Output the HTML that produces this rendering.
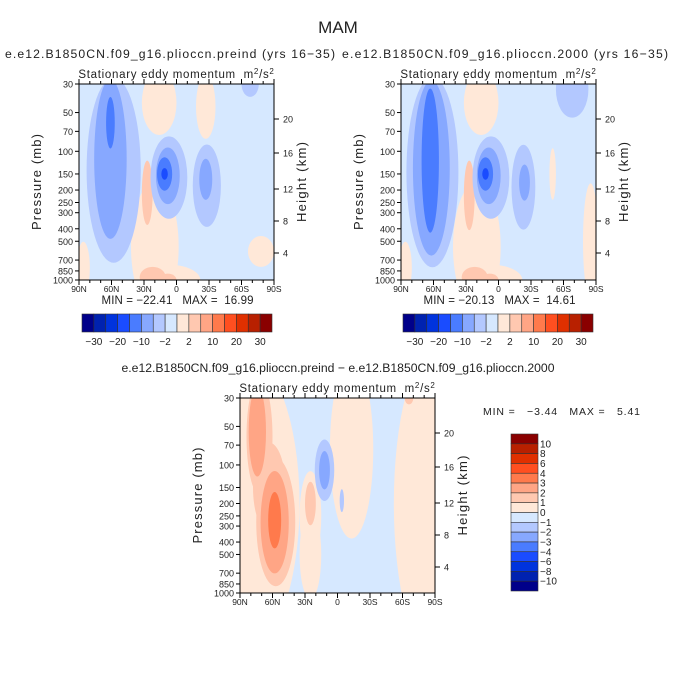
<!DOCTYPE html>
<html><head><meta charset="utf-8">
<style>
html,body{margin:0;padding:0;background:#fff;width:675px;height:677px;overflow:hidden;}
svg{display:block;font-family:"Liberation Sans",sans-serif;}
text{fill:#222;white-space:pre;}
</style></head>
<body>
<svg id="root" width="675" height="677" viewBox="0 0 675 677" xmlns="http://www.w3.org/2000/svg" overflow="hidden">
<text x="338" y="33" font-size="17" text-anchor="middle">MAM</text>
<g id="panels"></g>
</svg>
<script>
const colors16 = ["#00008a","#0022b0","#0033dd","#1a4cff","#4a7cff","#87a8ff","#b3c8ff","#d6e8ff","#ffe8d8","#ffc8b0","#ffa585","#ff7a4c","#ff4f20","#e03000","#b82000","#8a0000"];
const cbLabelsTop = ["-30","-20","-10","-2","2","10","20","30"];
const cbLabelsDiff = ["10","8","6","4","3","2","1","0","-1","-2","-3","-4","-6","-8","-10"];
const pTicks = [30,50,70,100,150,200,250,300,400,500,700,850,1000];
const hTicks = [[20,119],[16,153],[12,189],[8,221],[4,253]];
const latTicks = [90,60,30,0,-30,-60,-90];
const latLabels = ["90N","60N","30N","0","30S","60S","90S"];
// blobs: [lat, pressure, halfWidthDeg, halfHeightDecades, colorIndex]
const blobsPre = [
 [16,42,16,0.25,8],[-27,45,9,0.25,8],
 [20,550,22,0.5,8],[8,1000,30,0.12,8],[-78,600,12,0.12,8],[86,800,6,0.2,8],
 [27,210,5,0.25,9],[22,950,12,0.08,9],[8,1000,8,0.05,9],
 [58,140,25,0.72,6],[61,115,15,0.62,5],[61,60,4,0.2,4],
 [7,160,17,0.32,6],[8,155,11,0.22,5],[11,150,7,0.13,4],[11,150,3,0.045,3],
 [-28,185,13,0.32,6],[-27,165,6,0.16,5],[-68,30,8,0.1,6]
];
const blobsK = [
 [16,42,16,0.25,8],
 [20,550,22,0.5,8],[8,1000,30,0.12,8],[-85,500,7,0.45,8],[86,800,6,0.2,8],[-50,150,3,0.2,8],
 [27,220,5,0.27,9],[22,950,12,0.08,9],[8,1000,8,0.05,9],
 [61,145,24,0.74,6],[62,135,17,0.68,5],[63,118,8,0.56,4],
 [-68,33,15,0.22,6],
 [7,160,17,0.32,6],[9,155,11,0.22,5],[12,150,7,0.13,4],[12,150,3,0.045,3],
 [-23,190,11,0.33,6],[-24,175,5,0.14,5]
];
const blobsDiff = [
 [90,200,55,1.2,8],[-13,75,20,0.7,8],[-90,200,38,1.2,8],[25,500,10,0.35,8],[25,250,10,0.35,8],
 [72,60,12,0.45,9],[63,150,15,0.35,9],[57,280,18,0.5,9],
 [74,55,8,0.35,10],[58,280,13,0.4,10],[58,270,6,0.22,11],
 [25,200,5,0.17,9],[-66,30,4,0.05,9],
 [12,110,9,0.24,6],[12,110,5,0.15,5],[-4,190,2,0.09,6]
];
const NS="http://www.w3.org/2000/svg";
const root=document.getElementById('panels');
function mk(tag,attrs,parent){const e=document.createElementNS(NS,tag);for(const k in attrs)e.setAttribute(k,attrs[k]);(parent||root).appendChild(e);return e;}
function txt(x,y,s,size,anchor,parent,len){const a={x:x,y:y,'font-size':size,'text-anchor':anchor||'middle'};if(len){a.textLength=len;a.lengthAdjust='spacing';}const t=mk('text',a,parent);t.textContent=s;return t;}

function panel(id,x0,y0,w,h,bgIdx,blobs,title,sub){
  const g=mk('g',{});
  
  
  const X=lat=>x0+(90-lat)/180*w;
  const Y=p=>y0+h*Math.log10(p/30)/Math.log10(1000/30);
  const cp=mk('clipPath',{id:'c'+id},g);mk('rect',{x:x0,y:y0,width:w,height:h},cp);
  const pl=mk('g',{'clip-path':'url(#c'+id+')'},g);
  const bg=mk('rect',{x:x0,y:y0,width:w,height:h,fill:colors16[bgIdx]},pl);
  
  
  blobs.forEach(b=>{
    const ry=h*b[3]/Math.log10(1000/30);
    const e=mk('ellipse',{cx:X(b[0]),cy:Y(b[1]),rx:b[2]/180*w,ry:ry,fill:colors16[b[4]]},pl);
    
    
  });
  const fr=mk('rect',{x:x0,y:y0,width:w,height:h,fill:'none',stroke:'#000','stroke-width':1},g);
  
  
  pTicks.forEach(p=>{const y=Y(p);mk('line',{x1:x0-4,x2:x0,y1:y,y2:y,stroke:'#000'},g);
    const t=txt(x0-6,y+3.5,String(p),9,'end',g);
    
    });
  hTicks.forEach(ht=>{const y=y0+(ht[1]-84);mk('line',{x1:x0+w,x2:x0+w+5,y1:y,y2:y,stroke:'#000'},g);
    const t=txt(x0+w+9,y+3.5,String(ht[0]),9,'start',g);
    
    });
  for(let l=90;l>=-90;l-=10){const x=X(l);const big=l%30===0;
    mk('line',{x1:x,x2:x,y1:y0+h,y2:y0+h+(big?5:3),stroke:'#000'},g);
    mk('line',{x1:x,x2:x,y1:y0,y2:y0-(big?5:3),stroke:'#000'},g);}
  latTicks.forEach((l,i)=>{const t=txt(X(l),y0+h+12,latLabels[i],8.5,'middle',g);
    
    });
  const yl=txt(0,0,'Pressure (mb)',13,'middle',g,96);yl.setAttribute('transform','translate('+(x0-38)+','+(y0+h/2)+') rotate(-90)');
  
  
  const yr=txt(0,0,'Height (km)',13,'middle',g,80);yr.setAttribute('transform','translate('+(x0+w+32)+','+(y0+h/2)+') rotate(-90)');
  
  
  const st=mk('text',{x:x0+w/2,y:y0-6,'font-size':11.5,'text-anchor':'middle','letter-spacing':'0.7'},g);
  st.innerHTML='Stationary eddy momentum  m<tspan font-size="8" dy="-4">2</tspan><tspan dy="4">/s</tspan><tspan font-size="8" dy="-4">2</tspan>';
  
  
  const tt=txt(title[1],y0-26,title[0],12.2,'middle',g,title[2]);
  
  
  if(sub){const s=txt(x0+w/2+1,y0+h+24,sub,11.5,'middle',g,152);
    
    }
}
function hbar(id,x0,y0,w,h){
  const g=mk('g',{});
  
  
  const bw=w/16;
  colors16.forEach((c,i)=>{const r=mk('rect',{x:x0+i*bw,y:y0,width:bw,height:h,fill:c,stroke:'#333','stroke-width':0.6},g);
    
    });
  cbLabelsTop.forEach((s,i)=>{const t=txt(x0+(2*i+1)*bw,y0+h+13,s.replace('-','\u2212'),10,'middle',g);
    
    });
}
function vbar(id,x0,y0,w,h){
  const g=mk('g',{});
  
  
  const bh=h/16;
  colors16.slice().reverse().forEach((c,i)=>{const r=mk('rect',{x:x0,y:y0+i*bh,width:w,height:bh,fill:c,stroke:'#333','stroke-width':0.6},g);
    
    });
  cbLabelsDiff.forEach((s,i)=>{const t=txt(x0+w+2,y0+(i+1)*bh+3.5,s.replace('-','\u2212'),10,'start',g);
    
    });
}
panel('panel-preind',79,84,195,196,7,blobsPre,['e.e12.B1850CN.f09_g16.plioccn.preind (yrs 16\u221235)',170,330],'MIN = \u221222.41   MAX =  16.99');
panel('panel-2000',401,84,195,196,7,blobsK,['e.e12.B1850CN.f09_g16.plioccn.2000 (yrs 16\u221235)',505,326],'MIN = \u221220.13   MAX =  14.61');
panel('panel-diff',240,398,195,195,7,blobsDiff,['e.e12.B1850CN.f09_g16.plioccn.preind \u2212 e.e12.B1850CN.f09_g16.plioccn.2000',338,433],null);
hbar('colorbar-preind',82,314,190,18);
hbar('colorbar-2000',403,314,190,18);
vbar('colorbar-diff',511,434,27,157);
const mm=txt(483,415,'MIN =   \u22123.44   MAX =   5.41',10.5,'start',null,157);


</script>
</body></html>
